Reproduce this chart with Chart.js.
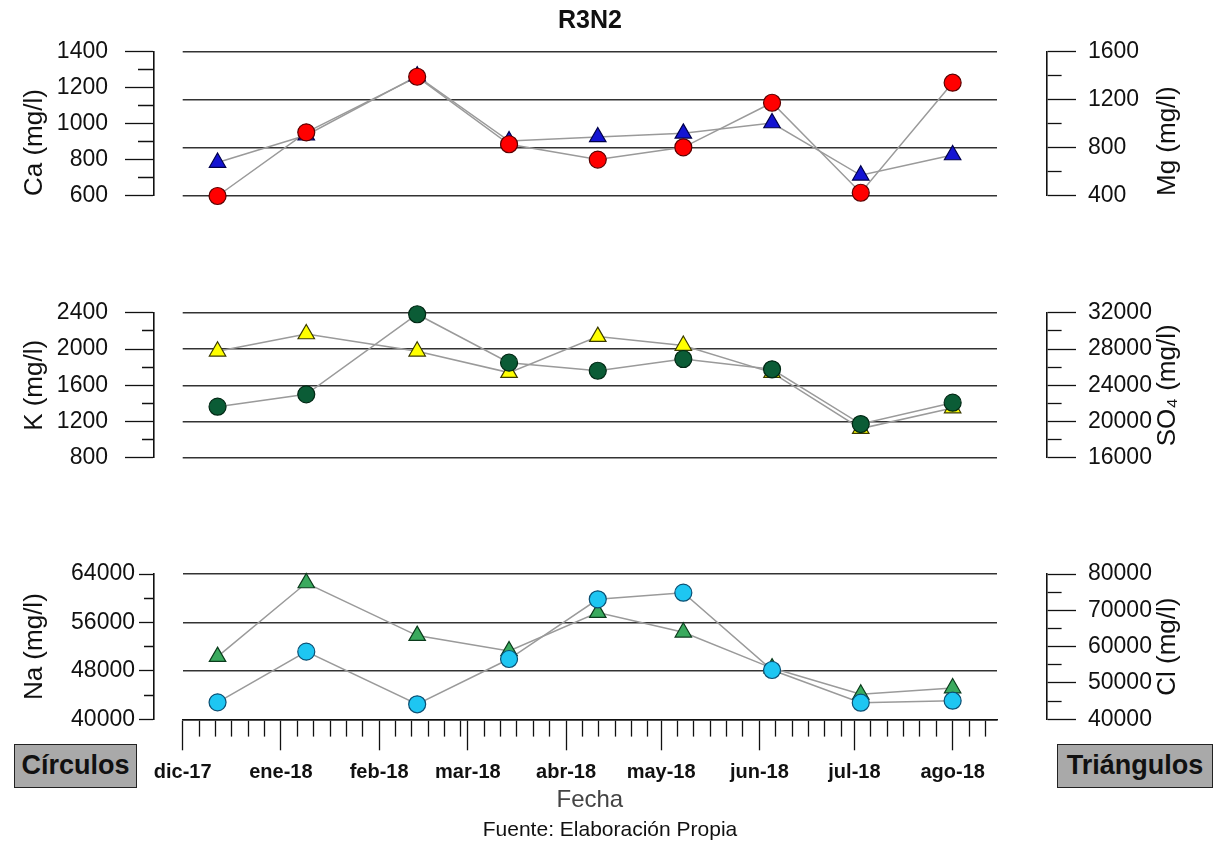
<!DOCTYPE html>
<html lang="es">
<head>
<meta charset="utf-8">
<title>R3N2</title>
<script src="https://cdn.jsdelivr.net/npm/chart.js@4.4.0/dist/chart.umd.min.js"></script>
<style>
  html, body { margin: 0; padding: 0; background: #ffffff; }
  #wrap { position: relative; width: 1218px; height: 844px; overflow: hidden;
          font-family: 'Liberation Sans', Arial, Helvetica, sans-serif; color: #111; }
  #wrap canvas { position: absolute; left: 0; top: 0; }
  .txt { position: absolute; white-space: nowrap; }
  .caja { position: absolute; box-sizing: border-box; border: 1.5px solid #222; background: #a9a9a9;
          font-weight: bold; font-size: 27px; text-align: center; line-height: 40px; color: #111; }
</style>
</head>
<body>
<div id="wrap">
  <canvas id="ejes1" width="1218" height="844"></canvas>
  <canvas id="ejes2" width="1218" height="844"></canvas>
  <canvas id="ejes3" width="1218" height="844"></canvas>
  <canvas id="graf1" width="1218" height="844"></canvas>
  <canvas id="graf2" width="1218" height="844"></canvas>
  <canvas id="graf3" width="1218" height="844"></canvas>
  <div class="txt" style="left:490px;width:200px;top:4px;text-align:center;font-weight:bold;font-size:25px;line-height:30px;">R3N2</div>
  <div class="caja" style="left:14px;top:744px;width:123px;height:44px;">Círculos</div>
  <div class="caja" style="left:1057px;top:744px;width:156px;height:44px;">Triángulos</div>
  <div class="txt" style="left:410px;width:400px;top:816px;text-align:center;font-size:21px;line-height:26px;">Fuente: Elaboración Propia</div>
</div>
<script>
// ---------------- DATOS ----------------
const fechas = ['2017-12-12', '2018-01-09', '2018-02-13', '2018-03-14', '2018-04-11',
                '2018-05-08', '2018-06-05', '2018-07-03', '2018-08-01'];
// Círculos (eje izquierdo)
const ca = [600, 953, 1261, 887, 802, 870, 1117, 618, 1228];
const k  = [1365, 1501, 2383, 1850, 1761, 1890, 1777, 1174, 1409];
const na = [42800, 51170, 42480, 49960, 59820, 60910, 48140, 42740, 43070];
// Triángulos (eje derecho)
const mg  = [678, 905, 1397, 857, 891, 921, 1007, 572, 741];
const so4 = [27750, 29656, 27750, 25405, 29370, 28380, 25400, 19240, 21500];
const cl  = [57260, 77520, 63040, 58800, 69370, 63950, 54100, 46880, 48600];
// Eje de fechas
const mesesInicio = ['2017-12-01', '2018-01-01', '2018-02-01', '2018-03-01', '2018-04-01',
                     '2018-05-01', '2018-06-01', '2018-07-01', '2018-08-01'];
const mesesEtiquetas = ['dic-17', 'ene-18', 'feb-18', 'mar-18', 'abr-18', 'may-18', 'jun-18', 'jul-18', 'ago-18'];
const ejeInicio = '2017-12-01';
const ejeFin = '2018-08-15';
// Marcas de los ejes Y
const ticksCa = [600, 800, 1000, 1200, 1400];
const ticksMg = [400, 800, 1200, 1600];
const ticksK = [800, 1200, 1600, 2000, 2400];
const ticksSO4 = [16000, 20000, 24000, 28000, 32000];
const ticksNa = [40000, 48000, 56000, 64000];
const ticksCl = [40000, 50000, 60000, 70000, 80000];

// ---------------- UTILIDADES ----------------
const FAM = "'Liberation Sans', Arial, Helvetica, sans-serif";
Chart.defaults.font.family = FAM;
Chart.defaults.color = '#111';

const DIA = 86400000;
const t0 = Date.parse(ejeInicio + 'T00:00:00Z');
const dia = s => (Date.parse(s + 'T00:00:00Z') - t0) / DIA;
const X_MAX = dia(ejeFin);

const ANCHO = 1218, ALTO = 844;
const BORDE_IZQ = 154, BORDE_DER = 1047;
const AREA_IZQ = 182.7, AREA_DER = 997;
const TL = 29;
const PASO_MENOR = 31 / 6;

// marcas del eje X: mayor al inicio de cada mes, menores cada 31/6 días
const xTicks = [];
mesesInicio.forEach((m, i) => {
  const a = dia(m);
  xTicks.push({ value: a, major: true });
  const sig = i + 1 < mesesInicio.length ? dia(mesesInicio[i + 1]) : X_MAX;
  for (let v = a + PASO_MENOR; v < sig - 0.01; v += PASO_MENOR) xTicks.push({ value: v, major: false });
});
const etiquetaMes = v => {
  const i = mesesInicio.findIndex(m => Math.abs(dia(m) - v) < 0.01);
  return i >= 0 ? mesesEtiquetas[i] : '';
};

const tituloDerecho = {
  id: 'tituloDerecho',
  afterDraw(chart, args, o) {
    if (!o || !o.texto) return;
    const s = chart.scales.yR;
    const ctx = chart.ctx;
    ctx.save();
    ctx.font = o.tam + 'px ' + FAM;
    ctx.fillStyle = '#111';
    const w = ctx.measureText(o.texto).width;
    const cy = o.alinear === 'start' ? s.bottom - w / 2 : (s.top + s.bottom) / 2;
    ctx.translate(o.x, cy);
    ctx.rotate(-Math.PI / 2);
    ctx.textAlign = 'center';
    ctx.textBaseline = 'middle';
    ctx.fillText(o.texto, 0, 0);
    ctx.restore();
  }
};

function ejeVisible(pos, e) {
  const etq = e.marcas;
  const menor = e.menor;
  const tl = e.tl || TL;
  const esMayor = v => etq.some(t => Math.abs(t - v) < 1e-6);
  return {
    type: 'linear', position: pos, min: etq[0], max: etq[etq.length - 1],
    afterBuildTicks: s => {
      const out = [];
      for (let i = 0; i < etq.length; i++) {
        out.push({ value: etq[i] });
        if (i + 1 < etq.length) out.push({ value: (etq[i] + etq[i + 1]) / 2 });
      }
      s.ticks = out;
    },
    ticks: {
      autoSkip: false, padding: e.pad !== undefined ? e.pad : (pos === 'left' ? 17 : 12), color: '#111',
      font: { size: 23 },
      callback: v => (esMayor(v) ? String(Math.round(v)) : '')
    },
    grid: {
      drawOnChartArea: false, drawTicks: true, tickLength: tl, tickColor: '#111', tickWidth: 1.3,
      tickBorderDash: c => (c.tick && !esMayor(c.tick.value))
        ? (pos === 'left' ? [0, tl - menor, menor, 300] : [menor, 300]) : []
    },
    border: { display: true, color: '#111', width: 1.6 },
    title: pos === 'left'
      ? { display: true, text: e.titulo, align: e.alinear || 'center', color: '#111',
          font: { size: 26 }, padding: { top: 19, bottom: 0 } }
      : { display: false },
    afterFit: s => { s.width = pos === 'left' ? BORDE_IZQ : ANCHO - BORDE_DER; }
  };
}

function ejeOculto(pos, e, rejilla) {
  const etq = e.marcas;
  return {
    type: 'linear', position: pos, min: etq[0], max: etq[etq.length - 1],
    afterBuildTicks: s => { s.ticks = etq.map(v => ({ value: v })); },
    ticks: { display: false, autoSkip: false },
    grid: { display: rejilla, drawOnChartArea: true, drawTicks: false, color: '#333', lineWidth: 1.5 },
    border: { display: false },
    afterFit: s => { s.width = 0; }
  };
}

const ejeXVisible = {
  type: 'linear', position: 'bottom', min: 0, max: X_MAX,
  afterBuildTicks: s => { s.ticks = xTicks.map(t => ({ value: t.value, major: t.major })); },
  ticks: {
    autoSkip: false, maxRotation: 0, minRotation: 0, padding: 10, color: '#111',
    font: { size: 20, weight: 'bold' },
    callback: (v, i, t) => (t[i] && t[i].major ? etiquetaMes(v) : '')
  },
  grid: {
    drawOnChartArea: false, drawTicks: true, tickLength: 31, tickColor: '#111', tickWidth: 1.3,
    tickBorderDash: c => (c.tick && !c.tick.major) ? [16, 300] : []
  },
  border: { display: true, color: '#111', width: 1.6 },
  title: { display: true, text: 'Fecha', color: '#444', font: { size: 24 }, padding: { top: 0, bottom: 0 } },
  afterFit: s => { s.height = 95; }
};

const puntos = serie => fechas.map((f, i) => ({ x: dia(f), y: serie[i] }));

function crearPanel(cfg) {
  const padBot = ALTO - cfg.bottom;
  new Chart(document.getElementById(cfg.idEjes), {
    type: 'line',
    data: { datasets: [] },
    options: {
      responsive: false, animation: false, events: [],
      layout: { padding: { left: 0, right: 0, top: cfg.top, bottom: padBot } },
      scales: {
        x: { type: 'linear', display: false, min: 0, max: X_MAX },
        yL: ejeVisible('left', cfg.izq),
        yR: ejeVisible('right', cfg.der)
      },
      plugins: {
        legend: { display: false }, tooltip: { enabled: false },
        tituloDerecho: { texto: cfg.der.titulo, x: 1168, tam: 26, alinear: cfg.der.alinear }
      }
    },
    plugins: [tituloDerecho]
  });

  const linea = { pointRadius: 0, borderColor: '#9a9a9a', borderWidth: 1.5, clip: false, tension: 0 };
  new Chart(document.getElementById(cfg.idGraf), {
    type: 'line',
    data: {
      datasets: [
        { label: cfg.izq.nombre, data: puntos(cfg.izq.valores), yAxisID: 'yL', showLine: false,
          pointStyle: 'circle', pointRadius: 8.5, pointBackgroundColor: cfg.izq.relleno,
          pointBorderColor: cfg.izq.borde, pointBorderWidth: 1.2, clip: false },
        { label: cfg.der.nombre, data: puntos(cfg.der.valores), yAxisID: 'yR', showLine: false,
          pointStyle: 'triangle', pointRadius: 9.5, pointBackgroundColor: cfg.der.relleno,
          pointBorderColor: cfg.der.borde, pointBorderWidth: 1.2, clip: false },
        Object.assign({ label: cfg.izq.nombre + ' línea', data: puntos(cfg.izq.valores), yAxisID: 'yL' }, linea),
        Object.assign({ label: cfg.der.nombre + ' línea', data: puntos(cfg.der.valores), yAxisID: 'yR' }, linea)
      ]
    },
    options: {
      responsive: false, animation: false, events: [],
      layout: { padding: { left: AREA_IZQ, right: ANCHO - AREA_DER, top: cfg.top,
                           bottom: cfg.ejeX ? padBot - 95 : padBot } },
      scales: {
        x: cfg.ejeX ? ejeXVisible : { type: 'linear', display: false, min: 0, max: X_MAX },
        yL: ejeOculto('left', cfg.izq, cfg.rejilla === 'yL'),
        yR: ejeOculto('right', cfg.der, cfg.rejilla === 'yR')
      },
      plugins: { legend: { display: false }, tooltip: { enabled: false } }
    }
  });
}

crearPanel({
  idEjes: 'ejes1', idGraf: 'graf1', top: 51.7, bottom: 196, rejilla: 'yR', ejeX: false,
  izq: { nombre: 'Ca', valores: ca, marcas: ticksCa, menor: 16, titulo: 'Ca (mg/l)', alinear: 'start',
         relleno: '#ff0000', borde: '#5a0000' },
  der: { nombre: 'Mg', valores: mg, marcas: ticksMg, menor: 14, titulo: 'Mg (mg/l)', alinear: 'start',
         relleno: '#1414d2', borde: '#00004a' }
});
crearPanel({
  idEjes: 'ejes2', idGraf: 'graf2', top: 312.7, bottom: 458, rejilla: 'yR', ejeX: false,
  izq: { nombre: 'K', valores: k, marcas: ticksK, menor: 12, titulo: 'K (mg/l)',
         relleno: '#0b5c36', borde: '#002814' },
  der: { nombre: 'SO4', valores: so4, marcas: ticksSO4, menor: 14, titulo: 'SO\u2084 (mg/l)',
         relleno: '#ffff00', borde: '#3a3a00' }
});
crearPanel({
  idEjes: 'ejes3', idGraf: 'graf3', top: 574, bottom: 719.3, rejilla: 'yL', ejeX: true,
  izq: { nombre: 'Na', valores: na, marcas: ticksNa, menor: 10, tl: 15, pad: 4, titulo: 'Na (mg/l)',
         relleno: '#1ec6f2', borde: '#0b4f73' },
  der: { nombre: 'Cl', valores: cl, marcas: ticksCl, menor: 14, titulo: 'Cl (mg/l)',
         relleno: '#3aaa5e', borde: '#0b3b1c' }
});
</script>
</body>
</html>
